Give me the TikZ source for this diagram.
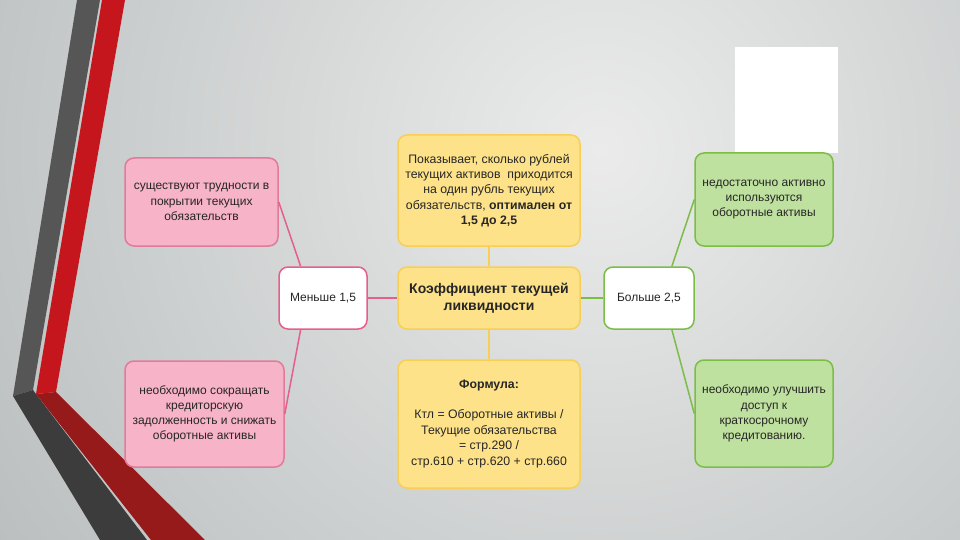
\documentclass[tikz,border=0pt]{standalone}
\usepackage{fontspec}
\setmainfont{Liberation Sans}
\usetikzlibrary{calc, positioning}
\definecolor{pinkFill}{HTML}{F7B3C7}
\definecolor{pinkLine}{HTML}{E07B9C}
\definecolor{pinkLink}{HTML}{E65F8C}
\definecolor{yellowFill}{HTML}{FDE28A}
\definecolor{yellowLine}{HTML}{F8CF55}
\definecolor{greenFill}{HTML}{BFE1A0}
\definecolor{greenLine}{HTML}{7CBD48}
\definecolor{bgLight}{HTML}{EBEBEB}
\definecolor{bgDark}{HTML}{B8BDBD}
\definecolor{stripeGray}{HTML}{565656}
\definecolor{stripeGrayDark}{HTML}{3C3C3C}
\definecolor{stripeRed}{HTML}{C6161D}
\definecolor{stripeRedDark}{HTML}{971A1B}
\tikzset{
    box/.style={rectangle, rounded corners=9pt, line width=1.5pt, align=center, inner sep=2pt, text=black!85, font=\fontsize{12}{15.2}\selectfont},
    pinkBox/.style={box, draw=pinkLine, fill=pinkFill},
    yellowBox/.style={box, draw=yellowLine, fill=yellowFill},
    greenBox/.style={box, draw=greenLine, fill=greenFill},
    pinkTag/.style={box, draw=pinkLink, fill=white},
    greenTag/.style={box, draw=greenLine, fill=white},
    pinkEdge/.style={draw=pinkLink, line width=1.5pt},
    yellowEdge/.style={draw=yellowLine, line width=1.5pt},
    greenEdge/.style={draw=greenLine, line width=1.5pt},
}
\newcommand{\drawLink}[3][pinkEdge]{
    \draw[#1] (#2) -- (#3);
}
\begin{document}
\begin{tikzpicture}[x=1pt, y=-1pt]

        \useasboundingbox (0,0) rectangle (960,540);
        \begin{scope}
            \clip (0,0) rectangle (960,540);
            \shade[inner color=bgLight, outer color=bgDark] (600,150) circle (750);
        \end{scope}

        \fill[stripeGray] (77,0) -- (100,0) -- (33,390) -- (13,396) -- cycle;
        \fill[stripeGrayDark] (13,396) -- (33,390) -- (147,540) -- (100,540) -- cycle;
        \fill[stripeRed] (102,0) -- (125,0) -- (56,392) -- (36,394) -- cycle;
        \fill[stripeRedDark] (36,394) -- (56,392) -- (205,540) -- (151,540) -- cycle;

        \node[fill=white, minimum width=103pt, minimum height=106pt] (blank) at (786.5,100) {};

        \node[yellowBox, minimum width=182pt, minimum height=62pt, font=\fontsize{14}{17}\selectfont\bfseries] (ratio) at (489,298) {Коэффициент текущей\\ликвидности};
        \node[yellowBox, minimum width=182pt, minimum height=111pt, font=\fontsize{12.3}{15.4}\selectfont] (meaning) at (489,190.5) {Показывает, сколько рублей\\текущих активов\ \ приходится\\на один рубль текущих\\обязательств, \textbf{оптимален от}\\\textbf{1,5 до 2,5}};
        \node[yellowBox, minimum width=182pt, minimum height=128pt, font=\fontsize{12.3}{15.6}\selectfont] (formula) at (489,424) {\textbf{Формула:}\\[14.8pt]Ктл = Оборотные активы /\\Текущие обязательства\\= стр.290 /\\стр.610 + стр.620 + стр.660};

        \node[pinkTag, minimum width=88pt, minimum height=62pt] (less) at (323,298) {Меньше 1,5};
        \node[pinkBox, minimum width=153pt, minimum height=88pt] (troubles) at (201.5,202) {существуют трудности в\\покрытии текущих\\обязательств};
        \node[pinkBox, minimum width=159pt, minimum height=106pt] (reduce) at (204.5,414) {необходимо сокращать\\кредиторскую\\задолженность и снижать\\оборотные активы};

        \node[greenTag, minimum width=90pt, minimum height=62pt] (more) at (649,298) {Больше 2,5};
        \node[greenBox, minimum width=138pt, minimum height=93pt] (idle) at (764,199.5) {недостаточно активно\\используются\\оборотные активы};
        \node[greenBox, minimum width=138pt, minimum height=107pt] (credit) at (764,413.5) {необходимо улучшить\\доступ к\\краткосрочному\\кредитованию.};

        \drawLink[yellowEdge]{ratio.north}{meaning.south}
        \drawLink[yellowEdge]{ratio.south}{formula.north}
        \drawLink{ratio.west}{less.east}
        \drawLink{$(less.north)!0.5!(less.north west)$}{troubles.east}
        \drawLink{$(less.south)!0.5!(less.south west)$}{reduce.east}
        \drawLink[greenEdge]{ratio.east}{more.west}
        \drawLink[greenEdge]{$(more.north)!0.5!(more.north east)$}{idle.west}
        \drawLink[greenEdge]{$(more.south)!0.5!(more.south east)$}{credit.west}

    \end{tikzpicture}
\end{document}
